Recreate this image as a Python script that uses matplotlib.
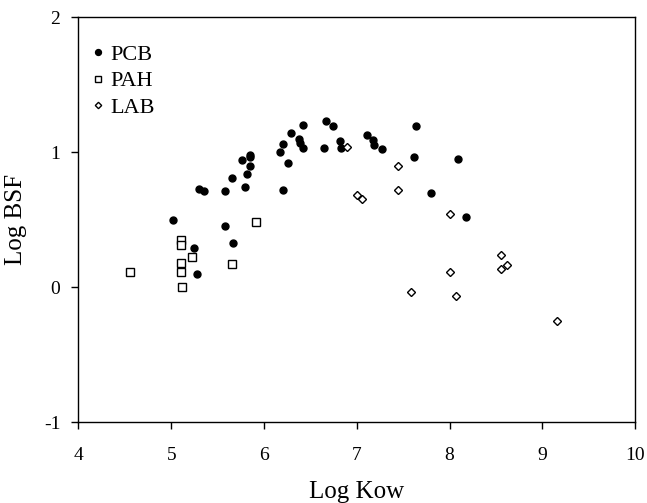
import matplotlib
matplotlib.use("Agg")
import matplotlib.pyplot as plt

plt.rcParams['font.family'] = ['Liberation Serif', 'DejaVu Serif']

pcb_x = [5.02, 5.30, 5.35, 5.24, 5.28, 5.58, 5.58, 5.66, 5.67, 5.76, 5.80, 5.82, 5.85, 5.85, 5.85,
         6.17, 6.20, 6.20, 6.26, 6.29, 6.38, 6.39, 6.42, 6.42, 6.65, 6.67, 6.74, 6.82, 6.83,
         7.11, 7.18, 7.19, 7.27, 7.64, 7.62, 8.09, 7.80, 8.18]
pcb_y = [0.50, 0.73, 0.71, 0.29, 0.10, 0.45, 0.71, 0.81, 0.33, 0.94, 0.74, 0.84, 0.98, 0.96, 0.90,
         1.00, 0.72, 1.06, 0.92, 1.14, 1.10, 1.07, 1.20, 1.03, 1.03, 1.23, 1.19, 1.08, 1.03,
         1.13, 1.09, 1.05, 1.02, 1.19, 0.96, 0.95, 0.70, 0.52]

pah_x = [4.56, 5.10, 5.10, 5.10, 5.10, 5.12, 5.22, 5.66, 5.91]
pah_y = [0.11, 0.35, 0.31, 0.18, 0.11, 0.00, 0.22, 0.17, 0.48]

lab_x = [6.90, 7.45, 7.45, 7.00, 7.06, 8.01, 8.56, 8.62, 8.56, 8.01, 7.59, 8.07, 9.16]
lab_y = [1.04, 0.90, 0.72, 0.68, 0.65, 0.54, 0.24, 0.16, 0.13, 0.11, -0.04, -0.07, -0.25]

x_ticks = [4, 5, 6, 7, 8, 9, 10]
y_ticks = [-1, 0, 1, 2]

fig = plt.figure(figsize=(6.47, 5.03), dpi=100)
ax = fig.add_axes([0.1213, 0.161, 0.8602, 0.805])

ax.plot(pcb_x, pcb_y, 'o', color='black', markersize=5, label='PCB', linestyle='none')
ax.plot(pah_x, pah_y, 's', markerfacecolor='white', markeredgecolor='black', markeredgewidth=1.0,
        markersize=5.5, label='PAH', linestyle='none')
ax.plot(lab_x, lab_y, 'D', markerfacecolor='white', markeredgecolor='black', markeredgewidth=1.0,
        markersize=3.8, label='LAB', linestyle='none')

ax.set_xlim(4, 10)
ax.set_ylim(-1, 2)
ax.set_xticks(x_ticks)
ax.set_yticks(y_ticks)
ax.set_xticklabels([str(v) for v in x_ticks])
ax.set_yticklabels([str(v) for v in y_ticks])
ax.tick_params(direction='out', length=5, width=1, labelsize=14, colors='black')
ax.tick_params(axis='x', pad=13)
ax.tick_params(axis='y', pad=8)
for s in ax.spines.values():
    s.set_linewidth(1.0)
    s.set_color('black')

ax.set_xlabel('Log Kow', fontsize=18, labelpad=12)
ax.set_ylabel('Log BSF', fontsize=18, labelpad=12)

leg = ax.legend(loc='upper left', bbox_to_anchor=(-0.009, 0.972), frameon=False, fontsize=16,
                handletextpad=0.15, handlelength=0.8, borderaxespad=0.3, labelspacing=0.28,
                markerscale=0.85)

fig.savefig('out.png', dpi=100)
